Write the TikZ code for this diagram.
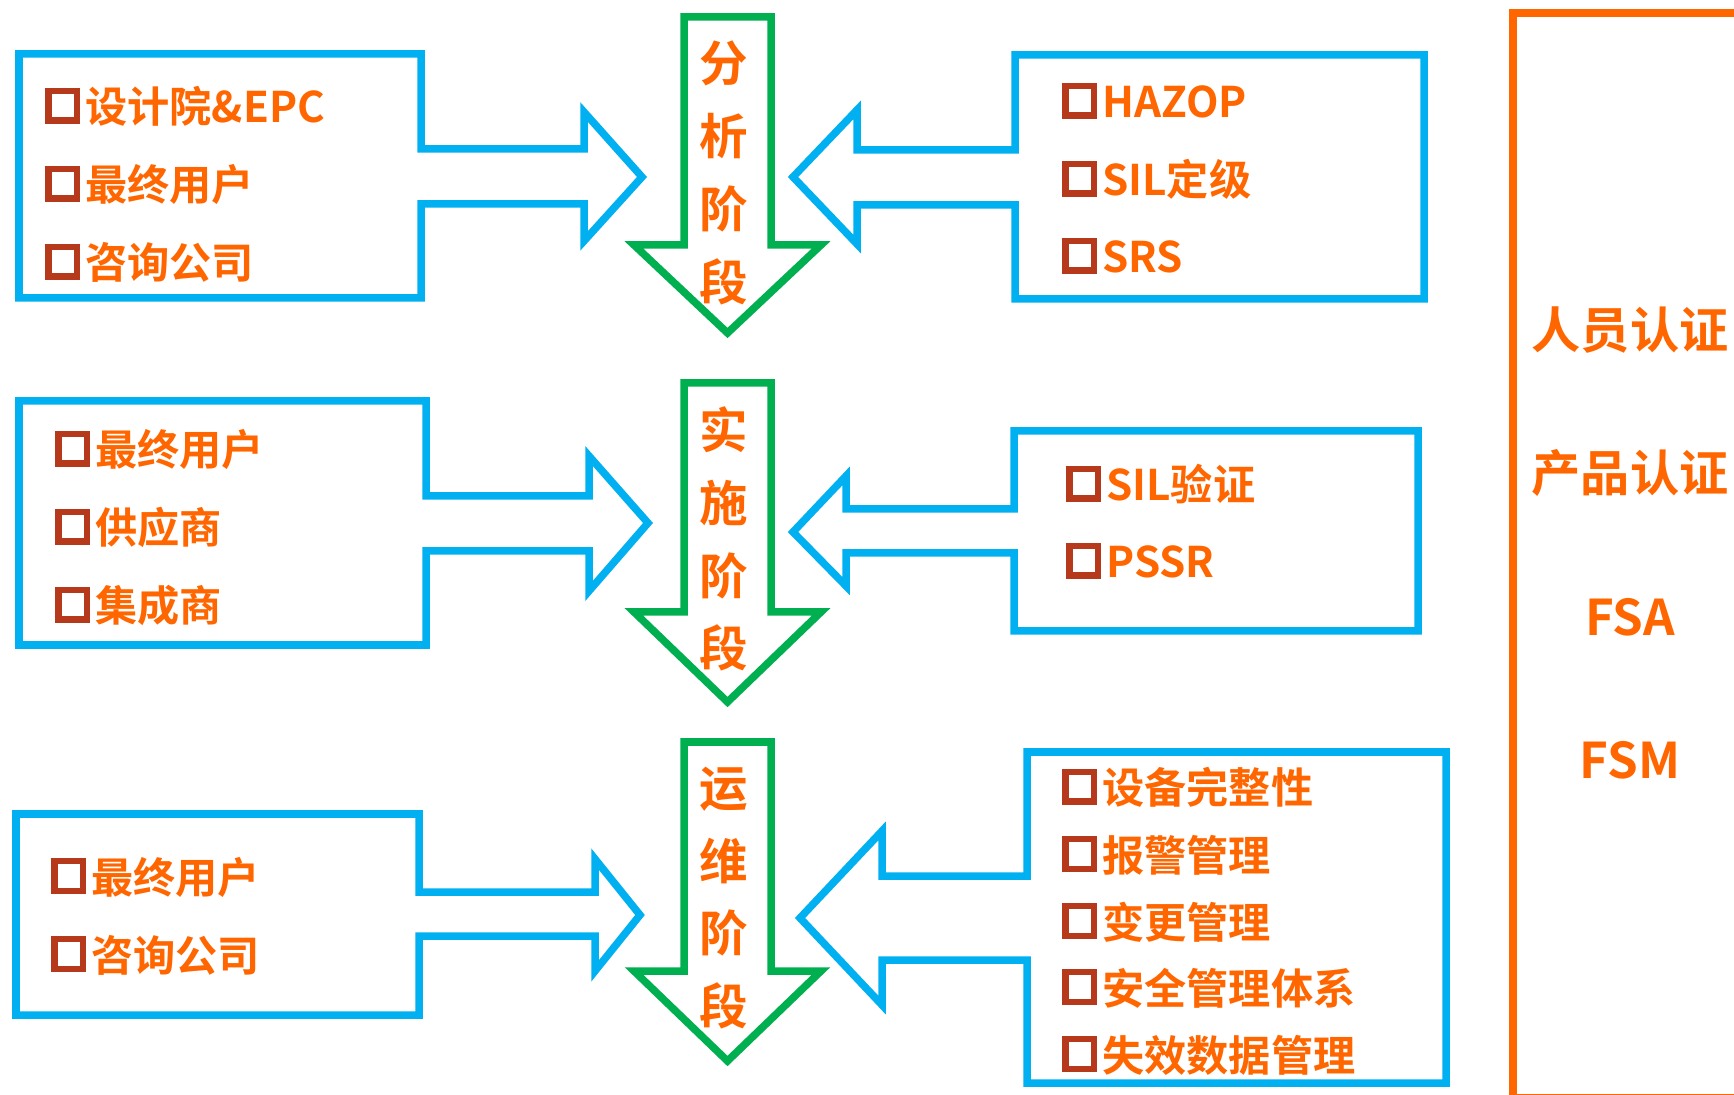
\documentclass[tikz,border=0pt]{standalone}
\usepackage{fontspec}
\setmainfont{Noto Sans CJK SC}[BoldFont={Noto Sans CJK SC Bold}]
\usepackage{xcolor}
\usetikzlibrary{positioning}

\definecolor{lineblue}{HTML}{00B0F0}
\definecolor{stagegreen}{HTML}{00B050}
\definecolor{txtorange}{HTML}{FF6600}
\definecolor{sqbrown}{HTML}{B5391A}

\newcommand{\chkbox}{{\setlength{\fboxrule}{0.068cm}\setlength{\fboxsep}{0pt}\raisebox{0.055cm}{\fcolorbox{sqbrown}{white}{\rule{0pt}{0.23cm}\hspace{0.22cm}}}}\hspace{0.05cm}}

\begin{document}
\begin{tikzpicture}[x=0.01cm, y=-0.01cm,
	inarrow/.style={draw=lineblue, line width=0.075cm, fill=white},
	stagearrow/.style={draw=stagegreen, line width=0.075cm, fill=white},
	certline/.style={draw=txtorange, line width=0.075cm},
	item/.style={anchor=base west, inner sep=0pt, text=txtorange, font=\fontsize{12}{14}\selectfont\bfseries},
	stagelabel/.style={align=center, inner sep=0pt, text=txtorange, font=\fontsize{13.8}{20.7}\selectfont\bfseries},
	certlabel/.style={inner sep=0pt, text=txtorange, font=\fontsize{14}{16}\selectfont\bfseries}]
		\useasboundingbox (0,0) rectangle (1734,1095);

		\begin{scope}
			\clip (0,0) rectangle (1734,1095);
			\draw[certline] (1513,13) rectangle (1800,1098);
		\end{scope}

		\draw[inarrow] (19,54) -- (421,54) -- (421,149) -- (584,149) -- (584,112) -- (642,177) -- (584,241) -- (584,204) -- (421,204) -- (421,298) -- (19,298) -- cycle;
		\draw[inarrow] (19,401) -- (426,401) -- (426,496) -- (589,496) -- (589,456) -- (648,523) -- (589,591) -- (589,551) -- (426,551) -- (426,645) -- (19,645) -- cycle;
		\draw[inarrow] (16,814) -- (419,814) -- (419,892) -- (595,892) -- (595,859) -- (640,915) -- (595,971) -- (595,936) -- (419,936) -- (419,1015) -- (16,1015) -- cycle;

		\draw[inarrow] (1015,55) -- (1424,55) -- (1424,299) -- (1015,299) -- (1015,205) -- (857,205) -- (857,244) -- (793,177) -- (857,110) -- (857,150) -- (1015,150) -- cycle;
		\draw[inarrow] (1014,431) -- (1418,431) -- (1418,631) -- (1014,631) -- (1014,553) -- (846,553) -- (846,586) -- (793,532) -- (846,476) -- (846,509) -- (1014,509) -- cycle;
		\draw[inarrow] (1027,752) -- (1446,752) -- (1446,1083) -- (1027,1083) -- (1027,960) -- (882,960) -- (882,1005) -- (800,918) -- (882,831) -- (882,876) -- (1027,876) -- cycle;

		\draw[stagearrow] (684,17) -- (771,17) -- (771,245) -- (821,245) -- (727.5,333) -- (634,245) -- (684,245) -- cycle;
		\draw[stagearrow] (684,383) -- (771,383) -- (771,612) -- (821,612) -- (727.5,702) -- (634,612) -- (684,612) -- cycle;
		\draw[stagearrow] (684,742) -- (771,742) -- (771,971) -- (821,971) -- (727.5,1061) -- (634,971) -- (684,971) -- cycle;

		\node[stagelabel] (stageA) at (724,173) {分\\析\\阶\\段};
		\node[stagelabel] (stageB) at (724,539) {实\\施\\阶\\段};
		\node[stagelabel] (stageC) at (724,898) {运\\维\\阶\\段};

		\node[item] (lA1) at (44,123) {\chkbox 设计院\&EPC};
		\node[item] (lA2) at (44,201) {\chkbox 最终用户};
		\node[item] (lA3) at (44,279) {\chkbox 咨询公司};

		\node[item] (lB1) at (54,466) {\chkbox 最终用户};
		\node[item] (lB2) at (54,544) {\chkbox 供应商};
		\node[item] (lB3) at (54,622) {\chkbox 集成商};

		\node[item] (lC1) at (50,893) {\chkbox 最终用户};
		\node[item] (lC2) at (50,971) {\chkbox 咨询公司};

		\node[item] (rA1) at (1061,118) {\chkbox HAZOP};
		\node[item] (rA2) at (1061,196) {\chkbox SIL定级};
		\node[item] (rA3) at (1061,273) {\chkbox SRS};

		\node[item] (rB1) at (1065,501) {\chkbox SIL验证};
		\node[item] (rB2) at (1065,578) {\chkbox PSSR};

		\node[item] (rC1) at (1061,804) {\chkbox 设备完整性};
		\node[item] (rC2) at (1061,871) {\chkbox 报警管理};
		\node[item] (rC3) at (1061,938) {\chkbox 变更管理};
		\node[item] (rC4) at (1061,1004) {\chkbox 安全管理体系};
		\node[item] (rC5) at (1061,1071) {\chkbox 失效数据管理};

		\node[certlabel] (staff) at (1630,330) {人员认证};
		\node[certlabel] (product) at (1630,473) {产品认证};
		\node[certlabel] (fsa) at (1630,617) {FSA};
		\node[certlabel] (fsm) at (1630,760) {FSM};
	\end{tikzpicture}
\end{document}
